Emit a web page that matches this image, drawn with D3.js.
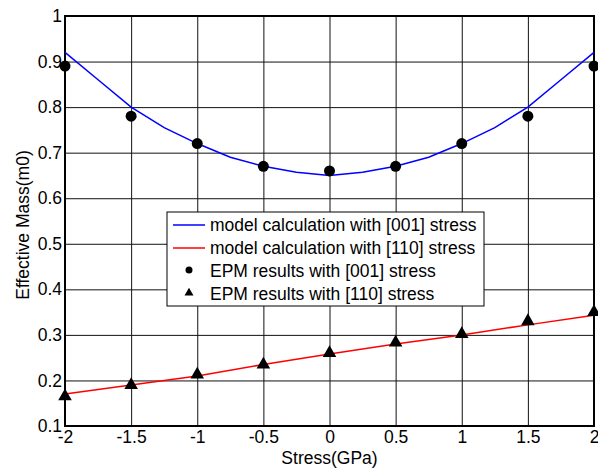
<!DOCTYPE html>
<html>
<head>
<meta charset="utf-8">
<script src="https://cdn.jsdelivr.net/npm/d3@7/dist/d3.min.js"></script>
<style>
  body { margin: 0; background: #fff; }
  text { font-family: "Liberation Sans", Arial, sans-serif; fill: #000; }
</style>
</head>
<body>
<script>
// ---------------------- DATA ----------------------

const modelStress = [-2, -1.75, -1.5, -1.25, -1, -0.75, -0.5, -0.25, 0, 0.25, 0.5, 0.75, 1, 1.25, 1.5, 1.75, 2];
const model001 = [0.92, 0.86, 0.80, 0.755, 0.72, 0.69, 0.67, 0.657, 0.65, 0.657, 0.67, 0.69, 0.72, 0.755, 0.80, 0.86, 0.92];

const redStress = [-2, -1.5, -1, -0.5, 0, 0.5, 1, 1.5, 2];
const model110 = [0.17, 0.19, 0.21, 0.235, 0.258, 0.28, 0.30, 0.322, 0.343];

const epmStress = [-2, -1.5, -1, -0.5, 0, 0.5, 1, 1.5, 2];
const epm001 = [0.89, 0.78, 0.72, 0.67, 0.66, 0.67, 0.72, 0.78, 0.89];
const epm110 = [0.165, 0.19, 0.213, 0.235, 0.26, 0.283, 0.302, 0.33, 0.35];

const xTicks = [-2, -1.5, -1, -0.5, 0, 0.5, 1, 1.5, 2];
const yTicks = [0.1, 0.2, 0.3, 0.4, 0.5, 0.6, 0.7, 0.8, 0.9, 1];

const legendLabels = [
    "model calculation with [001] stress",
    "model calculation with [110] stress",
    "EPM results with [001] stress",
    "EPM results with [110] stress"
];

// ---------------------- LAYOUT ----------------------

const width = 598, height = 469;
const margin = {left: 65, right: 4, top: 16, bottom: 43};
const FONT = 17.5;

const svg = d3.select("body").append("svg")
    .attr("width", width)
    .attr("height", height);

const x = d3.scaleLinear().domain([-2, 2]).range([margin.left, width - margin.right]);
const y = d3.scaleLinear().domain([0.1, 1]).range([height - margin.bottom, margin.top]);

// plain hyphen, like the original (d3 would use a unicode minus)
const fmt = d => String(d);

// grid
svg.append("g")
    .attr("transform", `translate(0,${margin.top})`)
    .call(d3.axisBottom(x).tickValues(xTicks).tickSize(y(0.1) - y(1)).tickFormat(""))
    .call(g => g.select(".domain").remove())
    .call(g => g.selectAll("line").attr("stroke", "#111").attr("stroke-width", 1));

svg.append("g")
    .attr("transform", `translate(${margin.left},0)`)
    .call(d3.axisRight(y).tickValues(yTicks).tickSize(x(2) - x(-2)).tickFormat(""))
    .call(g => g.select(".domain").remove())
    .call(g => g.selectAll("line").attr("stroke", "#111").attr("stroke-width", 1));

// tick labels
svg.append("g")
    .attr("transform", `translate(0,${y(0.1)})`)
    .call(d3.axisBottom(x).tickValues(xTicks).tickSize(0).tickPadding(5).tickFormat(fmt))
    .call(g => g.select(".domain").remove())
    .call(g => g.selectAll("text").attr("font-size", FONT).attr("font-family", null));

svg.append("g")
    .attr("transform", `translate(${margin.left},0)`)
    .call(d3.axisLeft(y).tickValues(yTicks).tickSize(0).tickPadding(3).tickFormat(fmt))
    .call(g => g.select(".domain").remove())
    .call(g => g.selectAll("text").attr("font-size", FONT).attr("font-family", null));

// box
svg.append("rect")
    .attr("x", x(-2)).attr("y", y(1))
    .attr("width", x(2) - x(-2)).attr("height", y(0.1) - y(1))
    .attr("fill", "none").attr("stroke", "#000").attr("stroke-width", 2);

// ---------------------- SERIES ----------------------

const line = d3.line().x(d => x(d[0])).y(d => y(d[1]));

svg.append("path")
    .datum(d3.zip(modelStress, model001))
    .attr("d", line)
    .attr("fill", "none").attr("stroke", "#0000ff").attr("stroke-width", 1.5);

svg.append("path")
    .datum(d3.zip(redStress, model110))
    .attr("d", line)
    .attr("fill", "none").attr("stroke", "#ff0000").attr("stroke-width", 1.5);

svg.selectAll(".dot")
    .data(d3.zip(epmStress, epm001))
    .enter().append("circle")
    .attr("class", "dot")
    .attr("cx", d => x(d[0])).attr("cy", d => y(d[1]))
    .attr("r", 5.5).attr("fill", "#000");

const tri = d3.symbol().type(d3.symbolTriangle).size(80);
svg.selectAll(".tri")
    .data(d3.zip(epmStress, epm110))
    .enter().append("path")
    .attr("class", "tri")
    .attr("d", tri)
    .attr("transform", d => `translate(${x(d[0])},${y(d[1])})`)
    .attr("fill", "#000");

// ---------------------- AXIS TITLES ----------------------

svg.append("text")
    .attr("x", (x(-2) + x(2)) / 2).attr("y", 464)
    .attr("text-anchor", "middle").attr("font-size", FONT)
    .text("Stress(GPa)");

svg.append("text")
    .attr("transform", "translate(29,225) rotate(-90)")
    .attr("text-anchor", "middle").attr("font-size", FONT)
    .text("Effective Mass(m0)");

// ---------------------- LEGEND ----------------------

const legend = svg.append("g").attr("transform", "translate(167,212)");
legend.append("rect")
    .attr("width", 317).attr("height", 94)
    .attr("fill", "#fff").attr("stroke", "#000").attr("stroke-width", 1);

const rowY = [13, 36, 59, 82];
legendLabels.forEach((label, i) => {
    const row = legend.append("g").attr("transform", `translate(0,${rowY[i]})`);
    if (i === 0 || i === 1) {
        row.append("line")
            .attr("x1", 6).attr("x2", 38)
            .attr("stroke", i === 0 ? "#0000ff" : "#ff0000").attr("stroke-width", 1.5);
    } else if (i === 2) {
        row.append("circle").attr("cx", 22).attr("cy", -1).attr("r", 3.5).attr("fill", "#000");
    } else {
        row.append("path").attr("d", d3.symbol().type(d3.symbolTriangle).size(35))
            .attr("transform", "translate(22,-1)").attr("fill", "#000");
    }
    row.append("text")
        .attr("x", 43).attr("y", 6)
        .attr("font-size", FONT)
        .text(label);
});
</script>
</body>
</html>
